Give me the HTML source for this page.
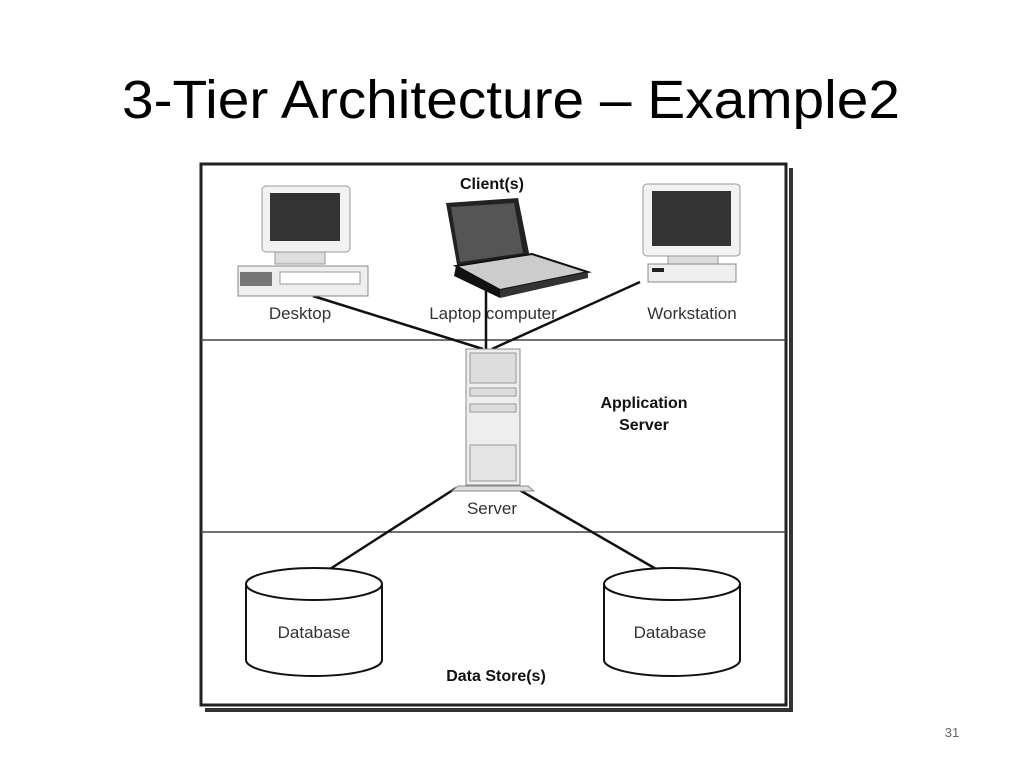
<!DOCTYPE html>
<html><head><meta charset="utf-8"><style>
html,body{margin:0;padding:0;background:#fff;width:1024px;height:768px;overflow:hidden}
</style></head><body>
<svg width="1024" height="768" viewBox="0 0 1024 768" xmlns="http://www.w3.org/2000/svg" font-family="Liberation Sans, sans-serif">
<text x="122" y="118" font-size="54" fill="#000" textLength="778" lengthAdjust="spacingAndGlyphs" font-family="Liberation Sans, sans-serif">3-Tier Architecture – Example2</text>
<text x="952" y="737" text-anchor="middle" font-size="13" fill="#666">31</text>
<!-- frame shadow -->
<rect x="789" y="168" width="4" height="544" fill="#333"/>
<rect x="205" y="708" width="588" height="4" fill="#333"/>
<rect x="201" y="164" width="585" height="541" fill="#fff" stroke="#222" stroke-width="3"/>
<line x1="201" y1="340" x2="786" y2="340" stroke="#444" stroke-width="1.5"/>
<line x1="201" y1="532" x2="786" y2="532" stroke="#444" stroke-width="1.5"/>
<!-- connectors -->
<g stroke="#111" stroke-width="2.5">
<line x1="313" y1="296" x2="483" y2="349"/>
<line x1="486" y1="290" x2="486" y2="349"/>
<line x1="640" y1="282" x2="492" y2="349"/>
<line x1="456" y1="488" x2="330" y2="569"/>
<line x1="516" y1="488" x2="656" y2="569"/>
</g>
<!-- desktop -->
<rect x="262" y="186" width="88" height="66" rx="4" fill="#f2f2f2" stroke="#999"/>
<rect x="270" y="193" width="70" height="48" fill="#333"/>
<rect x="275" y="252" width="50" height="12" fill="#ddd" stroke="#999"/>
<rect x="238" y="266" width="130" height="30" fill="#eee" stroke="#888"/>
<rect x="240" y="272" width="32" height="14" fill="#777"/>
<rect x="280" y="272" width="80" height="12" fill="#fff" stroke="#999"/>
<!-- laptop -->
<polygon points="446,203 518,198 530,258 458,270" fill="#222"/>
<polygon points="451,207 514,203 523,253 460,262" fill="#555"/>
<polygon points="456,266 532,254 588,272 500,290" fill="#ccc" stroke="#111" stroke-width="2"/>
<polygon points="456,266 500,290 500,298 454,276" fill="#111"/>
<polygon points="500,290 588,272 588,278 500,298" fill="#333"/>
<!-- workstation -->
<rect x="643" y="184" width="97" height="72" rx="4" fill="#f2f2f2" stroke="#999"/>
<rect x="652" y="191" width="79" height="55" fill="#333"/>
<rect x="668" y="256" width="50" height="8" fill="#ddd" stroke="#999"/>
<rect x="648" y="264" width="88" height="18" fill="#eee" stroke="#888"/>
<rect x="652" y="268" width="12" height="4" fill="#222"/>
<!-- server -->
<rect x="466" y="349" width="54" height="136" fill="#eee" stroke="#888"/>
<rect x="470" y="353" width="46" height="30" fill="#ddd" stroke="#999"/>
<rect x="470" y="388" width="46" height="8" fill="#ddd" stroke="#999"/>
<rect x="470" y="404" width="46" height="8" fill="#ddd" stroke="#999"/>
<rect x="470" y="445" width="46" height="36" fill="#e4e4e4" stroke="#999"/>
<polygon points="458,486 528,486 534,491 452,491" fill="#ddd" stroke="#888"/>
<!-- databases -->
<g fill="#fff" stroke="#111" stroke-width="2">
<path d="M246,584 L246,660 A68,16 0 0 0 382,660 L382,584"/>
<ellipse cx="314" cy="584" rx="68" ry="16"/>
<path d="M604,584 L604,660 A68,16 0 0 0 740,660 L740,584"/>
<ellipse cx="672" cy="584" rx="68" ry="16"/>
</g>
<g font-size="17" fill="#333" text-anchor="middle">
<text x="300" y="319">Desktop</text>
<text x="493" y="319">Laptop computer</text>
<text x="692" y="319">Workstation</text>
<text x="492" y="514">Server</text>
<text x="314" y="638">Database</text>
<text x="670" y="638">Database</text>
</g>
<g font-size="16" font-weight="bold" fill="#111" text-anchor="middle">
<text x="492" y="189">Client(s)</text>
<text x="644" y="408">Application</text>
<text x="644" y="430">Server</text>
<text x="496" y="681">Data Store(s)</text>
</g>
</svg>
</body></html>
